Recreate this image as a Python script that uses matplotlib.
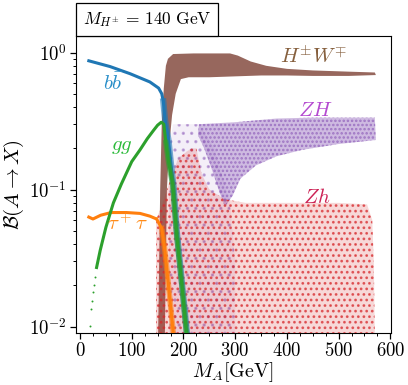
import matplotlib
matplotlib.use('Agg')
import matplotlib.pyplot as plt
from matplotlib.offsetbox import AnchoredText
from matplotlib.ticker import FixedLocator, MultipleLocator, LogLocator, NullFormatter, FuncFormatter

plt.rcParams['mathtext.fontset'] = 'cm'
plt.rcParams['font.family'] = ['DejaVu Serif']
plt.rcParams['hatch.linewidth'] = 1.2

# ---- data ----
# A -> b bbar (dense line)
bb_x = [17, 58, 97, 135, 152, 158, 161, 164.5, 171, 177, 181, 187, 197, 207]
bb_y = [0.87, 0.79, 0.70, 0.61, 0.55, 0.50, 0.44, 0.32, 0.23, 0.14, 0.105, 0.05, 0.021, 0.0088]
# A -> g g
gg_x = [32, 39, 50, 64.5, 80, 100, 116, 130, 142, 150, 157, 162, 166, 171, 179, 187, 197, 206]
gg_y = [0.027, 0.036, 0.053, 0.08, 0.11, 0.16, 0.195, 0.235, 0.27, 0.295, 0.31, 0.30, 0.22, 0.16, 0.11, 0.046, 0.02, 0.0088]
gg_low_x = [19, 22, 23, 25, 27, 29]
gg_low_y = [0.0101, 0.0135, 0.0155, 0.018, 0.020, 0.023]
# A -> tau tau
tau_x = [17, 25, 40, 60, 90, 116, 135, 148, 158, 164.5, 171, 180.5]
tau_y = [0.063, 0.061, 0.065, 0.068, 0.068, 0.067, 0.064, 0.061, 0.052, 0.035, 0.02, 0.0088]
# A -> H+- W-+ : outline of the dense point band
hw_x = [151, 153, 155, 158, 162, 166, 170, 180, 220, 290, 305, 330, 360, 400, 450, 520, 570,
        572, 520, 450, 400, 350, 300, 250, 210, 195, 185, 178, 172, 168, 166, 164]
hw_y = [0.0085, 0.03, 0.1, 0.3, 0.55, 0.8, 0.9, 0.975, 0.985, 0.985, 0.95, 0.86, 0.8, 0.76, 0.74, 0.725, 0.715,
        0.685, 0.675, 0.675, 0.68, 0.68, 0.67, 0.66, 0.66, 0.64, 0.5, 0.35, 0.2, 0.1, 0.03, 0.0085]
# A -> Z H : outline of dense band and of sparse cloud
zH_x = [230, 300, 380, 450, 570, 572, 500, 430, 380, 340, 310, 295, 280, 268, 255, 240, 228]
zH_y = [0.30, 0.31, 0.33, 0.335, 0.335, 0.23, 0.215, 0.195, 0.175, 0.15, 0.12, 0.09, 0.075, 0.10, 0.14, 0.20, 0.25]
zHs_x = [172, 172, 180, 230, 260, 290, 300, 300]
zHs_y = [0.0085, 0.2, 0.3, 0.3, 0.2, 0.08, 0.03, 0.0085]
# A -> Z h : outline of point cloud
zh_x = [147, 147, 160, 175, 190, 215, 225, 235, 250, 280, 320, 400, 500, 555, 565, 568, 570]
zh_y = [0.0085, 0.06, 0.08, 0.12, 0.17, 0.2, 0.2, 0.13, 0.1, 0.085, 0.08, 0.08, 0.08, 0.078, 0.06, 0.03, 0.0085]

labels = [r'$b\bar{b}$', r'$gg$', r'$\tau^+\tau^-$', r'$H^{\pm}W^{\mp}$', r'$ZH$', r'$Zh$']
label_x = [64, 81, 103, 451, 455, 458]
label_y = [0.60, 0.205, 0.0565, 0.93, 0.38, 0.088]
label_c = ['#2a8fc9', '#2dbb3c', '#ff8c1a', '#86603e', '#b44ad0', '#cc2255']

xticks = [0, 100, 200, 300, 400, 500, 600]
yticks = [0.01, 0.1, 1.0]
ytick_labels = [r'$10^{-2}$', r'$10^{-1}$', r'$10^{0}$']

c_bb, c_gg, c_tau = '#1f77b4', '#2ca02c', '#ff7f0e'
c_zh, c_zH, c_hw = '#d62728', '#9467bd', '#8c564b'

fig = plt.figure(figsize=(4.08, 3.85), dpi=100)
ax = fig.add_axes([0.186, 0.136, 0.772, 0.7705])

ax.fill(hw_x, hw_y, color=c_hw, alpha=0.9, lw=0, zorder=1)
ax.fill(zHs_x, zHs_y, color=c_zH, alpha=0.1, lw=0, zorder=2)
ax.fill(zHs_x, zHs_y, facecolor='none', edgecolor=(0.58, 0.40, 0.74, 0.5), hatch='..', lw=0, zorder=2)
ax.fill(zH_x, zH_y, color=c_zH, alpha=0.45, lw=0, zorder=2)
ax.fill(zH_x, zH_y, facecolor='none', edgecolor=(0.58, 0.40, 0.74, 0.8), hatch='....', lw=0, zorder=2)
ax.fill(zh_x, zh_y, color=c_zh, alpha=0.18, lw=0, zorder=3)
ax.fill(zh_x, zh_y, facecolor='none', edgecolor=(0.84, 0.15, 0.16, 0.7), hatch='...', lw=0, zorder=3)
# steep (decaying) parts of the lines are wider, scattered bands
ax.plot(tau_x[8:], tau_y[8:], color=c_tau, lw=4, alpha=0.6, zorder=4)
ax.plot(tau_x, tau_y, color=c_tau, lw=2.2, zorder=4)
ax.plot(bb_x[6:], bb_y[6:], color=c_bb, lw=4.5, alpha=0.6, zorder=5)
ax.plot(bb_x, bb_y, color=c_bb, lw=2.2, zorder=5)
ax.plot(gg_x[12:], gg_y[12:], color=c_gg, lw=4, alpha=0.6, zorder=6)
ax.plot(gg_x, gg_y, color=c_gg, lw=2.2, zorder=6)
ax.scatter(gg_low_x, gg_low_y, s=2, color=c_gg, lw=0, zorder=6)

for t, x, y, c in zip(labels, label_x, label_y, label_c):
    ax.text(x, y, t, color=c, fontsize=15, ha='center', va='center', zorder=10)

ax.set_yscale('log')
ax.set_xlim(-8, 601)
ax.set_ylim(0.00904, 1.32)
ax.xaxis.set_major_locator(FixedLocator(xticks))
ax.xaxis.set_minor_locator(MultipleLocator(25))
ax.xaxis.set_major_formatter(FuncFormatter(lambda v, p: r'$%d$' % v))
ax.yaxis.set_major_locator(FixedLocator(yticks))
ax.set_yticklabels(ytick_labels)
ax.yaxis.set_minor_locator(LogLocator(base=10, subs=range(2, 10)))
ax.yaxis.set_minor_formatter(NullFormatter())
ax.tick_params(which='major', direction='out', length=4.5, width=0.9, labelsize=13.5, pad=2.5)
ax.tick_params(which='minor', direction='out', length=2.5, width=0.7)
ax.set_xlabel(r'$M_A[\mathrm{GeV}]$', fontsize=14.5, labelpad=0)
ax.set_ylabel(r'$\mathcal{B}(A\to X)$', fontsize=15, labelpad=2)

at = AnchoredText(r'$M_{H^{\pm}}\,=\,140\ \mathrm{GeV}$', loc='lower left', bbox_to_anchor=(0, 1),
                  bbox_transform=ax.transAxes, borderpad=0, pad=0.4, prop=dict(size=12.5), frameon=True)
at.patch.set_boxstyle('square,pad=0')
at.patch.set_linewidth(0.9)
ax.add_artist(at)

fig.savefig('out.png', dpi=100)
